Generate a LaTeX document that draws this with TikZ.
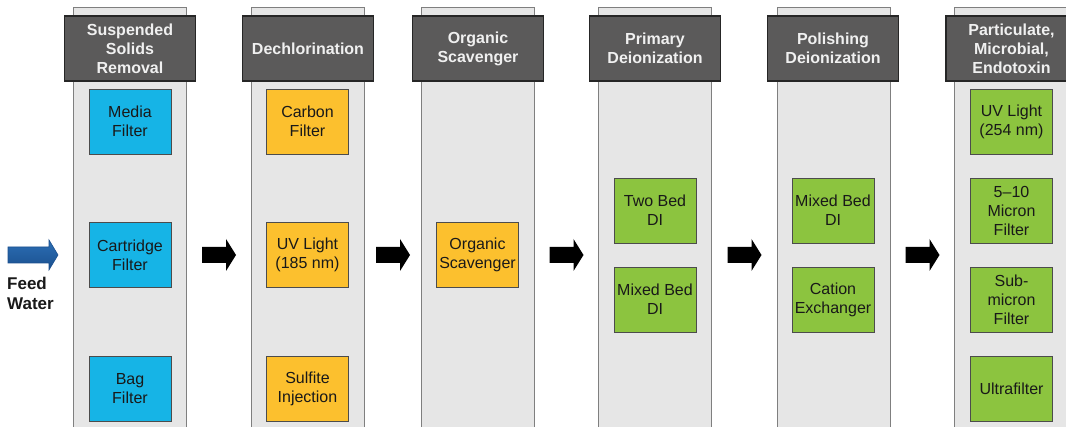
\documentclass[tikz,border=0pt]{standalone}
\usepackage{fontspec}
\setmainfont{Liberation Sans}
\usetikzlibrary{calc}

\definecolor{colfill}{HTML}{E6E6E6}
\definecolor{colline}{HTML}{7F7F7F}
\definecolor{hdrfill}{HTML}{5B5A5A}
\definecolor{cyanbox}{HTML}{16B4E6}
\definecolor{amberbox}{HTML}{FCC02E}
\definecolor{greenbox}{HTML}{8CC43F}
\definecolor{feedtop}{HTML}{2C6FB5}
\definecolor{feedbot}{HTML}{1A4F8E}

\tikzset{
  column/.style={draw=colline, line width=1.2pt, fill=colfill,
    minimum width=113pt, minimum height=440pt, anchor=north, inner sep=0pt},
  header/.style={draw=black!85, line width=1.3pt, fill=hdrfill,
    minimum width=131pt, minimum height=65pt, inner sep=0pt, align=center,
    text=white!94!black, font=\bfseries\fontsize{16}{19}\selectfont},
  unit/.style={draw=black!70, line width=0.9pt, minimum width=82pt,
    minimum height=65pt, inner sep=0pt, align=center, text=black!90,
    font=\fontsize{16}{19}\selectfont},
  media/.style={unit, fill=cyanbox},
  amber/.style={unit, fill=amberbox},
  resin/.style={unit, fill=greenbox},
  pics/flowarrow/.style={code={
    \fill[black] (-17,-8) -- (7,-8) -- (7,-16) -- (17,0) -- (7,16)
      -- (7,8) -- (-17,8) -- cycle;}}
}

\begin{document}
\begin{tikzpicture}[x=1pt,y=-1pt]
\useasboundingbox (0,0) rectangle (1066,427);
\clip (0,0) rectangle (1066,427);
\fill[white] (0,0) rectangle (1066,427);

% treatment stages
\node[column] (c1) at (130,7) {};
\node[column] (c2) at (308,7) {};
\node[column] (c3) at (478,7) {};
\node[column] (c4) at (655,7) {};
\node[column] (c5) at (834,7) {};
\node[column] (c6) at (1011,7) {};

\node[header] (h1) at (130,48.5) {Suspended\\Solids\\Removal};
\node[header] (h2) at (308,48.5) {Dechlorination};
\node[header] (h3) at (478,48.5) {Organic\\Scavenger};
\node[header] (h4) at (655,48.5) {Primary\\Deionization};
\node[header] (h5) at (833,48.5) {Polishing\\Deionization};
\node[header] (h6) at (1011.5,48.5) {Particulate,\\Microbial,\\Endotoxin};

% units within each stage
\node[media] (u11) at (130,121.5) {Media\\Filter};
\node[media] (u12) at (130,255) {Cartridge\\Filter};
\node[media] (u13) at (130,388.5) {Bag\\Filter};

\node[amber] (u21) at (307.5,121.5) {Carbon\\Filter};
\node[amber] (u22) at (307.5,255) {UV Light\\(185 nm)};
\node[amber] (u23) at (307.5,388.5) {Sulfite\\Injection};

\node[amber] (u31) at (477.5,255) {Organic\\Scavenger};

\node[resin] (u41) at (655,210.5) {Two Bed\\DI};
\node[resin] (u42) at (655,299.5) {Mixed Bed\\DI};

\node[resin] (u51) at (833,210.5) {Mixed Bed\\DI};
\node[resin] (u52) at (833,299.5) {Cation\\Exchanger};

\node[resin] (u61) at (1011.5,121.5) {UV Light\\(254 nm)};
\node[resin] (u62) at (1011.5,210.5) {5--10\\Micron\\Filter};
\node[resin] (u63) at (1011.5,299.5) {Sub-\\micron\\Filter};
\node[resin] (u64) at (1011.5,388.5) {Ultrafilter};

% flow arrows between stages
\foreach \a/\b [count=\i] in {c1/c2,c2/c3,c3/c4,c4/c5,c5/c6}{
  \coordinate (g\i) at ($(\a.east)!0.5!(\b.west)$);
  \pic at (g\i |- 0,255) {flowarrow};
}

% feed water inlet
\coordinate (feedtip) at (58,255);
\shade[top color=feedtop, bottom color=feedbot, draw=feedbot, line width=0.6pt]
  (8,247) -- (49,247) -- (49,240) -- (feedtip) -- (49,270) -- (49,263)
  -- (8,263) -- cycle;
\node[anchor=west, align=left, inner sep=0pt, text=black!90,
  font=\bfseries\fontsize{17}{20}\selectfont] (feed) at (7,293) {Feed\\Water};
\end{tikzpicture}
\end{document}
